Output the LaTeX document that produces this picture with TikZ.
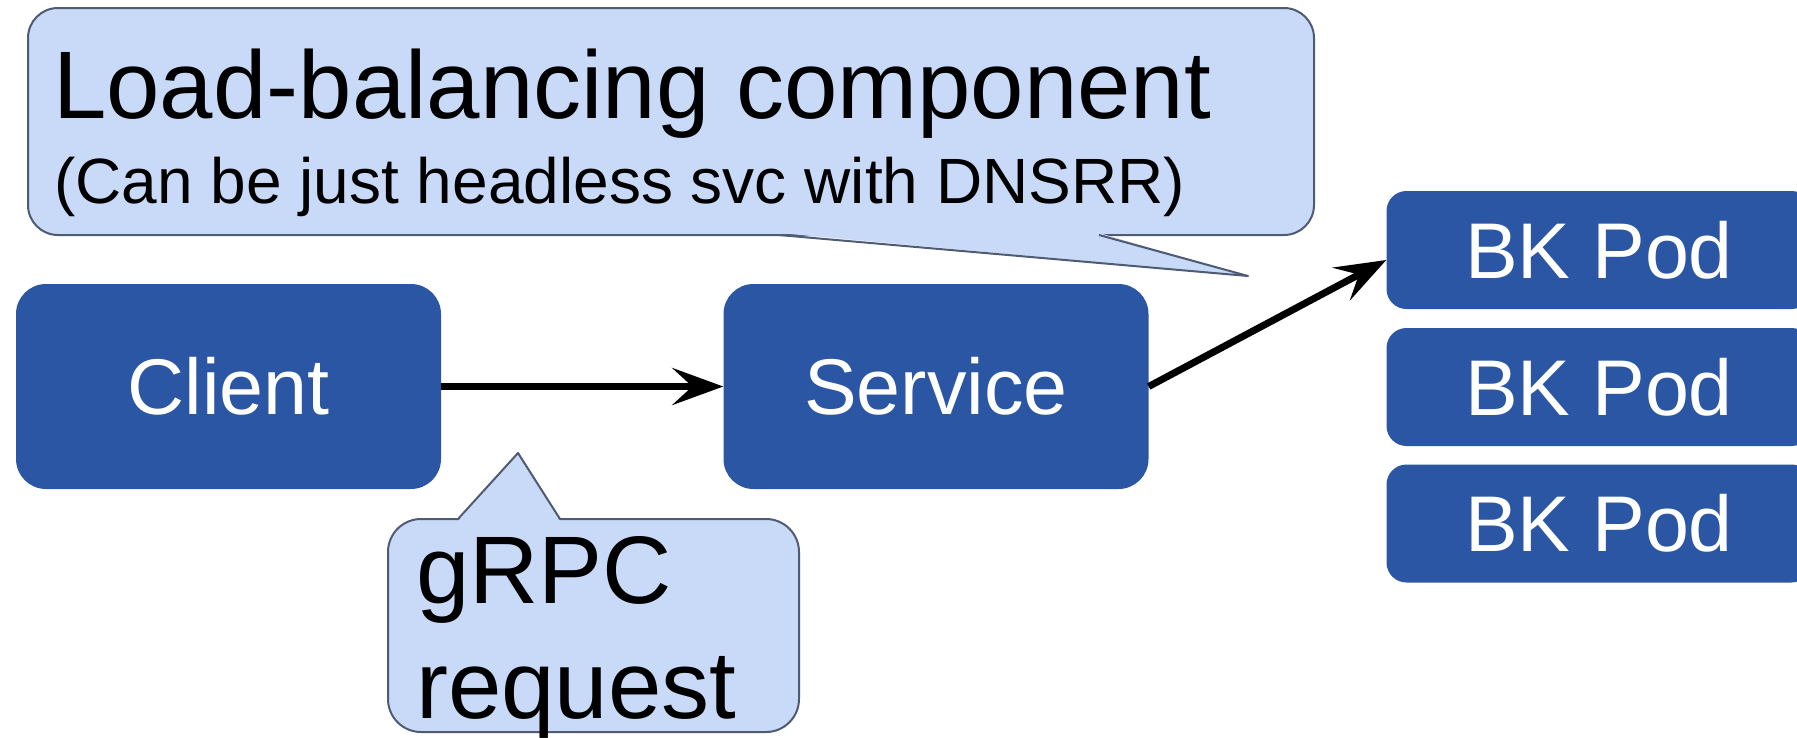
\documentclass[tikz,border=0pt]{standalone}
\usepackage{fontspec}
\setmainfont{Liberation Sans}
\usetikzlibrary{arrows.meta}
\definecolor{podblue}{RGB}{43,86,163}
\definecolor{notefill}{RGB}{201,218,248}
\definecolor{noteline}{RGB}{78,91,115}
\tikzset{
  box/.style={rectangle, rounded corners=30pt, fill=podblue, draw=none, text=white,
    minimum width=425pt, minimum height=205pt, inner sep=0pt,
    font=\fontsize{79}{95}\selectfont},
  podbox/.style={box, rounded corners=20pt, minimum height=118pt},
  note/.style={rectangle, fill=notefill, draw=noteline, line width=2pt, inner sep=0pt},
  notetail/.style={fill=notefill, draw=none},
  noteedge/.style={draw=noteline, line width=2pt, line join=round},
  notetext/.style={anchor=base west, inner sep=0pt, text=black},
  flow/.style={line width=7pt, -{Stealth[length=51pt,width=37pt,inset=20pt]}},
}
\begin{document}
\begin{tikzpicture}[x=1pt,y=-1pt]
\useasboundingbox (0,0) rectangle (1797,737);

% main boxes
\node[box] (client) at (228.5,386.5) {Client};
\node[box] (service) at (936,386.5) {Service};
\node[podbox] (pod1) at (1599,250) {BK Pod};
\node[podbox] (pod2) at (1599,387) {BK Pod};
\node[podbox] (pod3) at (1599,523.5) {BK Pod};

% request flow
\draw[flow] (client.east) -- (service.west);
\draw[flow] (service.east) -- ([yshift=-10pt]pod1.west);

% load-balancing callout
\node[note, rounded corners=30pt, minimum width=1286pt, minimum height=227pt] (lbnote) at (671,121.5) {};
\fill[notetail] (779,233) -- (1248,276) -- (1099,233) -- cycle;
\draw[noteedge] (779,235) -- (1248,276) -- (1099,235);
\node[notetext, font=\fontsize{96}{115}\selectfont] (lbtitle) at (53,118) {Load-balancing component};
\node[notetext, font=\fontsize{64}{77}\selectfont] (lbsub) at (54,203) {(Can be just headless svc with DNSRR)};

% gRPC request callout
\node[note, rounded corners=33pt, minimum width=411pt, minimum height=213pt] (grpcnote) at (593.5,625.5) {};
\fill[notetail] (458,521) -- (518,453) -- (560,521) -- cycle;
\draw[noteedge] (458,519) -- (518,453) -- (560,519);
\node[notetext, font=\fontsize{96}{115}\selectfont] (grpc1) at (416,603) {gRPC};
\node[notetext, font=\fontsize{96}{115}\selectfont] (grpc2) at (416,718) {request};
\end{tikzpicture}
\end{document}
